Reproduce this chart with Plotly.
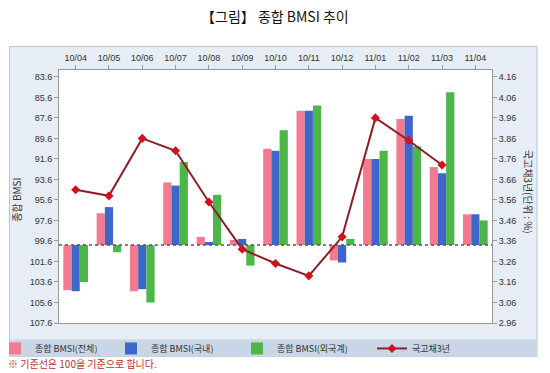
import plotly.graph_objects as go

categories = ["10/04", "10/05", "10/06", "10/07", "10/08", "10/09", "10/10",
              "10/11", "10/12", "11/01", "11/02", "11/03", "11/04"]
bmsi_total = [104.4, 96.9, 104.5, 93.9, 99.2, 99.5, 90.6, 86.9, 101.5, 91.6, 87.7, 92.4, 97.0]
bmsi_domestic = [104.5, 96.3, 104.3, 94.2, 99.7, 99.4, 90.8, 86.9, 101.7, 91.6, 87.4, 93.0, 97.0]
bmsi_foreign = [103.6, 100.7, 105.6, 91.9, 95.1, 102.0, 88.8, 86.4, 99.4, 90.8, 90.4, 85.1, 97.6]
bond_3y = [3.61, 3.58, 3.86, 3.80, 3.55, 3.32, 3.25, 3.19, 3.38, 3.96, 3.85, 3.73, None]
base_value = 100
left_ticks = [83.6, 85.6, 87.6, 89.6, 91.6, 93.6, 95.6, 97.6, 99.6, 101.6, 103.6, 105.6, 107.6]
right_ticks = [4.16, 4.06, 3.96, 3.86, 3.76, 3.66, 3.56, 3.46, 3.36, 3.26, 3.16, 3.06, 2.96]

FONT = "Liberation Sans, Arial, sans-serif"
KFONT = "Noto Sans CJK KR, sans-serif"

# plot area pixels: x 59..492, y 70..323.5
pl, pr, pt, pb = 59, 492, 70, 323.5
W, H = 550, 373
pw, ph = pr - pl, pb - pt

def px(x):
    return (x - pl) / pw

def py(y):
    return (pb - y) / ph

fig = go.Figure()
series = [
    ("종합 BMSI(전체)", bmsi_total, "#f27b91", "legend"),
    ("종합 BMSI(국내)", bmsi_domestic, "#3f67c9", "legend2"),
    ("종합 BMSI(외국계)", bmsi_foreign, "#4cb648", "legend3"),
]
for name, vals, col, lg in series:
    fig.add_trace(go.Bar(
        x=categories, y=[v - base_value for v in vals], base=base_value,
        name=name, marker=dict(color=col, line=dict(width=0)), yaxis="y", legend=lg))

fig.add_trace(go.Scatter(
    x=categories, y=bond_3y, name="국고채3년", yaxis="y2", mode="lines+markers",
    line=dict(color="#8e1d25", width=2),
    marker=dict(symbol="diamond", size=7, color="#d3111c"),
    connectgaps=False, legend="legend4"))

shapes = [
    # outer panel
    dict(type="rect", xref="paper", yref="paper", x0=px(9.5), x1=px(537), y0=py(357), y1=py(46.5),
         fillcolor="#e6edf5", line=dict(color="#b8c6d6", width=1), layer="below"),
    # legend band
    dict(type="rect", xref="paper", yref="paper", x0=px(10), x1=px(536.5), y0=py(357), y1=py(340),
         fillcolor="#c8d6e6", line=dict(width=0), layer="below"),
    # plot background
    dict(type="rect", xref="paper", yref="paper", x0=0, x1=1, y0=0, y1=1,
         fillcolor="white", line=dict(width=0), layer="below"),
    # baseline
    dict(type="line", xref="paper", yref="y", x0=0, x1=1, y0=base_value, y1=base_value,
         line=dict(color="#555555", width=1.5, dash="dot"), layer="above"),
]

annotations = [
    dict(text="【그림】 종합 BMSI 추이", xref="paper", yref="paper", x=px(275), y=py(16),
         showarrow=False, font=dict(family=KFONT, size=14, color="#111111"),
         xanchor="center", yanchor="middle"),
    dict(text="종합 BMSI", xref="paper", yref="paper", x=px(17), y=py(200), textangle=-90,
         showarrow=False, font=dict(family=KFONT, size=10, color="#333333"),
         xanchor="center", yanchor="middle"),
    dict(text="국고채3년(단위 : %)", xref="paper", yref="paper", x=px(528), y=py(192), textangle=90,
         showarrow=False, font=dict(family=KFONT, size=10, color="#333333"),
         xanchor="center", yanchor="middle"),
    dict(text="※ 기준선은 100을 기준으로 합니다.", xref="paper", yref="paper", x=px(6), y=py(364),
         showarrow=False, font=dict(family=KFONT, size=10, color="#b8322a"),
         xanchor="left", yanchor="middle"),
]

def legend_at(xpix):
    return dict(orientation="h", x=px(xpix), y=py(349), xanchor="left", yanchor="middle",
                bgcolor="rgba(0,0,0,0)", font=dict(family=KFONT, size=9, color="#333333"),
                itemwidth=30)

fig.update_layout(
    width=W, height=H,
    margin=dict(l=pl, r=W - pr, t=pt, b=H - pb, autoexpand=False),
    paper_bgcolor="white", plot_bgcolor="white",
    barmode="group", bargap=0.26, bargroupgap=0,
    font=dict(family=FONT, size=9, color="#333333"),
    shapes=shapes, annotations=annotations,
    showlegend=True,
    legend=legend_at(-5),
    legend2=legend_at(111),
    legend3=legend_at(237),
    legend4=legend_at(372),
    xaxis=dict(side="top", type="category", range=[-0.5, 12.5], showline=True, mirror=True,
               linecolor="#999999", linewidth=1, ticks="outside", ticklen=4, tickcolor="#999999",
               showgrid=False, zeroline=False, tickfont=dict(family=FONT, size=9, color="#333333")),
    yaxis=dict(range=[107.6, 82.93], tickvals=left_ticks, ticktext=[f"{v:.1f}" for v in left_ticks],
               showline=True, linecolor="#999999", linewidth=1, ticks="outside", ticklen=4,
               tickcolor="#999999", showgrid=False, zeroline=False,
               tickfont=dict(family=FONT, size=9, color="#333333")),
    yaxis2=dict(overlaying="y", side="right", range=[2.96, 4.1935], tickvals=right_ticks,
                ticktext=[f"{v:.2f}" for v in right_ticks], showline=True, linecolor="#999999",
                linewidth=1, ticks="outside", ticklen=4, tickcolor="#999999", showgrid=False,
                zeroline=False, tickfont=dict(family=FONT, size=9, color="#333333")),
)

fig.write_html("out.html", config={"displayModeBar": False},
               post_script="document.body.style.margin='0';")
